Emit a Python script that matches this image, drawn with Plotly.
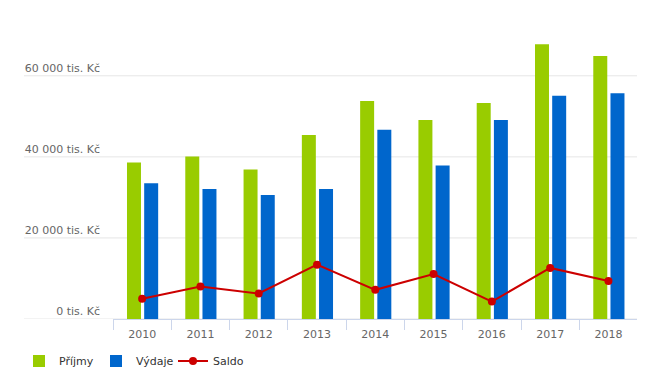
import plotly.graph_objects as go

years = ["2010", "2011", "2012", "2013", "2014", "2015", "2016", "2017", "2018"]
prijmy = [38600, 40100, 36900, 45400, 53800, 49100, 53300, 67800, 64900]
vydaje = [33500, 32100, 30600, 32100, 46700, 37900, 49100, 55100, 55700]
saldo = [5000, 8000, 6300, 13400, 7200, 11100, 4300, 12600, 9400]
y_ticks = [0, 20000, 40000, 60000]
y_tick_labels = ["0 tis. Kč", "20 000 tis. Kč", "40 000 tis. Kč", "60 000 tis. Kč"]

FONT = "DejaVu Sans"
# page body has an 8px margin, so the figure is drawn 8px right and down
OFF = 8
W, H = 667 - OFF, 384 - OFF
ML, MR, MT, MB = 113 - OFF, 30, 15 - OFF, 65
PW = W - ML - MR
PH = H - MT - MB

fig = go.Figure()
fig.add_trace(go.Bar(name="Příjmy", x=years, y=prijmy, marker_color="#99cc00",
                     width=0.24, offset=-0.26, marker_line_width=0))
fig.add_trace(go.Bar(name="Výdaje", x=years, y=vydaje, marker_color="#0066cc",
                     width=0.24, offset=0.035, marker_line_width=0))
fig.add_trace(go.Scatter(name="Saldo", x=years, y=saldo, mode="lines+markers",
                         line=dict(color="#cc0000", width=2),
                         marker=dict(color="#cc0000", size=8)))

grid_x0 = (24 - 113) / PW
shapes = []
for v in y_ticks:
    shapes.append(dict(type="line", xref="paper", yref="y", x0=grid_x0, x1=1,
                       y0=v, y1=v, line=dict(color="#e6e6e6", width=1), layer="below"))

fig.update_layout(
    width=W, height=H,
    margin=dict(l=ML, r=MR, t=MT, b=MB, autoexpand=False),
    paper_bgcolor="white", plot_bgcolor="white",
    barmode="overlay",
    font=dict(family=FONT, size=11, color="#333333"),
    shapes=shapes,
    showlegend=True,
    legend=dict(orientation="h", x=(19 - 113) / PW, xanchor="left",
                y=(319 - 361) / PH, yanchor="middle",
                entrywidth=32, entrywidthmode="pixels",
                font=dict(family=FONT, size=11, color="#333333"),
                itemclick=False, itemdoubleclick=False),
    xaxis=dict(type="category", tickson="boundaries", ticks="outside", ticklen=10,
               tickcolor="#ccd6eb", showline=True, linecolor="#ccd6eb", linewidth=1,
               showgrid=False, automargin=False, ticklabelstandoff=5,
               tickfont=dict(family=FONT, size=11, color="#666666"),
               range=[-0.5, 8.49], fixedrange=True),
    yaxis=dict(range=[0, 75000], showgrid=False, zeroline=False, automargin=False,
               tickvals=y_ticks, ticktext=y_tick_labels,
               ticklabelposition="outside top", ticks="", ticklabelstandoff=12,
               tickfont=dict(family=FONT, size=11, color="#666666"), fixedrange=True),
)

fig.write_html("out.html")
